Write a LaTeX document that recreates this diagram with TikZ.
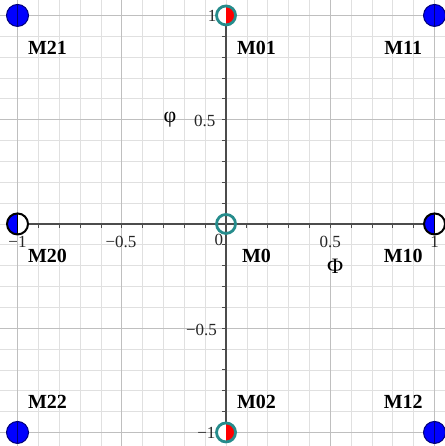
\documentclass[tikz,border=0pt]{standalone}
\usepackage{fontspec}
\setmainfont{Liberation Serif}
\usepackage{tikz}
\usetikzlibrary{positioning,calc}

\definecolor{verdeazul}{RGB}{38,140,140}
\definecolor{azulosc}{RGB}{0,0,120}

\begin{document}
\begin{tikzpicture}[
    x=208.5pt, y=208.5pt,
    every node/.style={inner sep=1pt},
    rejilla/.style={draw=black!12, line width=0.7pt},
    mayor/.style={draw=black!25, line width=0.9pt},
    eje/.style={draw=black!70, line width=1.3pt},
    tick/.style={draw=black!70, line width=0.8pt},
    etiq/.style={font=\fontsize{20}{22}\selectfont\bfseries},
    marca/.style={font=\fontsize{17}{19}\selectfont, text=black!85},
    letra/.style={font=\fontsize{22}{24}\selectfont, text=black},
    puntoazul/.style={circle, inner sep=0pt, minimum size=22pt,
        fill=blue, draw=azulosc, line width=1pt,
        path picture={\draw[azulosc, line width=1pt]
            (path picture bounding box.north) -- (path picture bounding box.south);}},
    mitad/.style={circle, inner sep=0pt, minimum size=21pt,
        fill=white, draw=black, line width=2pt,
        path picture={\fill[blue] (path picture bounding box.south west)
            rectangle (path picture bounding box.north);
            \draw[black, line width=1.2pt]
            (path picture bounding box.north) -- (path picture bounding box.south);}},
    anillo/.style={circle, inner sep=0pt, minimum size=19pt,
        draw=verdeazul, line width=2.8pt},
    anillorojo/.style={anillo, fill=white,
        path picture={\fill[red] (path picture bounding box.south)
            rectangle (path picture bounding box.north east);}}
]

\useasboundingbox (-1.084,-1.065) rectangle (1.050,1.074);

% Rejilla
\foreach \i in {-10,...,10} {
    \draw[rejilla] (\i/10,-1.065) -- (\i/10,1.074);
    \draw[rejilla] (-1.084,\i/10) -- (1.050,\i/10);
}
\foreach \i in {-1,-0.5,0.5,1} {
    \draw[mayor] (\i,-1.065) -- (\i,1.074);
    \draw[mayor] (-1.084,\i) -- (1.050,\i);
}

% Ejes
\coordinate (xizq) at (-1,0);
\coordinate (xder) at (1,0);
\coordinate (yabj) at (0,-1);
\coordinate (yarr) at (0,1);
\draw[eje] (xizq) -- (xder);
\draw[eje] (yabj) -- (yarr);
\foreach \i in {-10,...,10} {
    \draw[tick] (\i/10,0) -- ++(0,-4pt);
    \draw[tick] (0,\i/10) -- ++(-4pt,0);
}

% Marcas de los ejes
\node[marca] (tx1) at (-1,-0.086) {−1};
\node[marca] (tx2) at (-0.504,-0.086) {−0.5};
\node[marca] (tx3) at (-0.034,-0.078) {0};
\node[marca] (tx4) at (0.5,-0.086) {0.5};
\node[marca] (tx5) at (1,-0.086) {1};
\node[marca, anchor=east] (ty1) at (-0.04,1) {1};
\node[marca, anchor=east] (ty2) at (-0.045,0.493) {0.5};
\node[marca, anchor=east] (ty3) at (-0.038,-0.508) {−0.5};
\node[marca, anchor=east] (ty4) at (-0.045,-1) {−1};

% Nombres de los ejes
\node[letra] (fi) at (-0.269,0.501) {φ};
\node[letra] (Fi) at (0.523,-0.201) {Φ};

% Puntos
\node[puntoazul] (m21) at (-1,1) {};
\node[puntoazul] (m11) at (1,1) {};
\node[puntoazul] (m22) at (-1,-1) {};
\node[puntoazul] (m12) at (1,-1) {};
\node[mitad] (m20) at (-1,0) {};
\node[mitad] (m10) at (1,0) {};
\node[anillorojo] (m01) at (0,1) {};
\node[anillorojo] (m02) at (0,-1) {};
\node[anillo] (m0) at (0,0) {};

% Etiquetas
\node[etiq] (l21) at (-0.856,0.844) {M21};
\node[etiq] (l01) at (0.146,0.844) {M01};
\node[etiq] (l11) at (0.850,0.844) {M11};
\node[etiq] (l20) at (-0.856,-0.153) {M20};
\node[etiq] (l0) at (0.146,-0.153) {M0};
\node[etiq] (l10) at (0.850,-0.153) {M10};
\node[etiq] (l22) at (-0.856,-0.854) {M22};
\node[etiq] (l02) at (0.146,-0.854) {M02};
\node[etiq] (l12) at (0.850,-0.854) {M12};

\end{tikzpicture}
\end{document}
